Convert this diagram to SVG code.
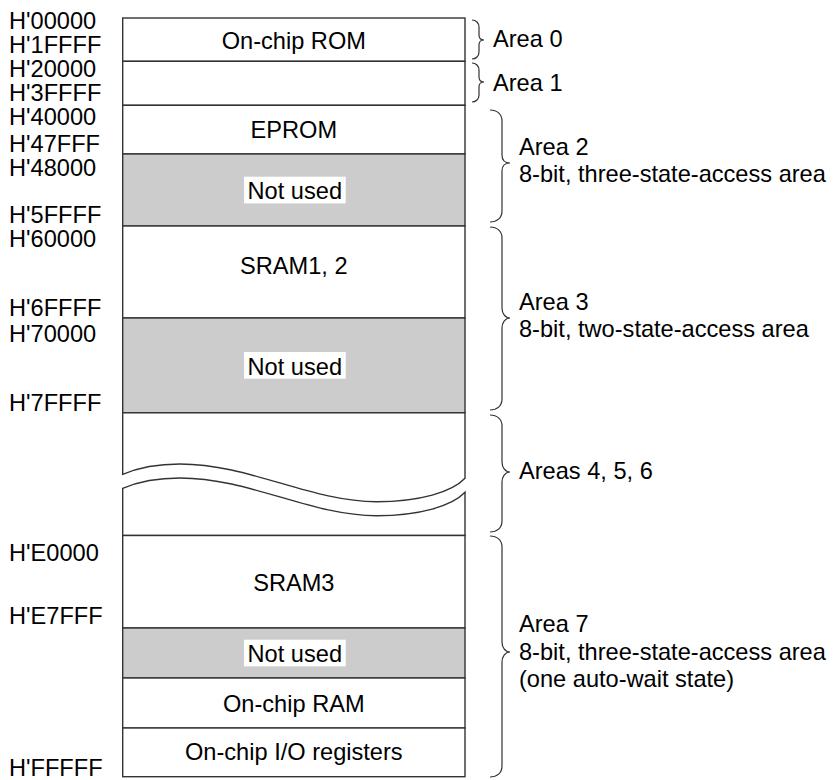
<svg xmlns="http://www.w3.org/2000/svg" width="838" height="780" viewBox="0 0 838 780">
<style>
text{font-family:"Liberation Sans",Arial,Helvetica,sans-serif;font-size:23.6px;fill:#000}
.c{text-anchor:middle}
.w{fill:#fff;stroke:#333;stroke-width:1.4}
.g{fill:#cccccc;stroke:#333;stroke-width:1.4}
.lb{fill:#fff;stroke:none}
.br{fill:none;stroke:#333;stroke-width:1.2}
</style>
<rect width="838" height="780" fill="#fff"/>
<g id="addresses">
<text x="9" y="29.3">H'00000</text>
<text x="9" y="53.3">H'1FFFF</text>
<text x="9" y="76.7">H'20000</text>
<text x="9" y="100.7">H'3FFFF</text>
<text x="9" y="125">H'40000</text>
<text x="9" y="151.7">H'47FFF</text>
<text x="9" y="175.7">H'48000</text>
<text x="9" y="223.3">H'5FFFF</text>
<text x="9" y="247">H'60000</text>
<text x="9" y="316">H'6FFFF</text>
<text x="9" y="342">H'70000</text>
<text x="9" y="411">H'7FFFF</text>
<text x="9" y="560.7">H'E0000</text>
<text x="9" y="624">H'E7FFF</text>
<text x="9" y="776">H'FFFFF</text>
</g>
<g id="rom">
<rect class="w" x="122.7" y="18" width="342.3" height="43.3"/>
<text class="c" x="293.8" y="49.3">On-chip ROM</text>
</g>
<g id="area1-empty">
<rect class="w" x="122.7" y="61.3" width="342.3" height="44"/>
</g>
<g id="eprom">
<rect class="w" x="122.7" y="105.3" width="342.3" height="48.7"/>
<text class="c" x="293.8" y="138.3">EPROM</text>
</g>
<g id="notused1">
<rect class="g" x="122.7" y="154" width="342.3" height="72"/>
<rect class="lb" x="244" y="176.7" width="101.7" height="26.7"/>
<text class="c" x="294.8" y="199.3">Not used</text>
</g>
<g id="sram12">
<rect class="w" x="122.7" y="226" width="342.3" height="92"/>
<text class="c" x="293.8" y="274">SRAM1, 2</text>
</g>
<g id="notused2">
<rect class="g" x="122.7" y="318" width="342.3" height="94.7"/>
<rect class="lb" x="244" y="352" width="101.7" height="26.7"/>
<text class="c" x="294.8" y="374.7">Not used</text>
</g>
<g id="areas456">
<path class="w" d="M122.7,474.3 C140,467 160,464 180,464 C250,464 310,501.7 376.7,501.7 C420,501.7 452,492 465,478.3 V412.7 H122.7 Z"/>
<path class="w" d="M122.7,488.3 C140,481 160,478 180,478 C250,478 310,515.7 376.7,515.7 C420,515.7 452,506 465,492.3 V535.5 H122.7 Z"/>
</g>
<g id="sram3">
<rect class="w" x="122.7" y="535.5" width="342.3" height="92.5"/>
<text class="c" x="293.8" y="591">SRAM3</text>
</g>
<g id="notused3">
<rect class="g" x="122.7" y="628" width="342.3" height="50"/>
<rect class="lb" x="244" y="639.7" width="101.7" height="26.7"/>
<text class="c" x="294.8" y="662.3">Not used</text>
</g>
<g id="ram">
<rect class="w" x="122.7" y="678" width="342.3" height="50"/>
<text class="c" x="293.8" y="711.7">On-chip RAM</text>
</g>
<g id="io">
<rect class="w" x="122.7" y="728" width="342.3" height="48.7"/>
<text class="c" x="293.8" y="760">On-chip I/O registers</text>
</g>
<g id="connectors">
<path class="br" d="M472,20 C476,20 479,23 479,27 V35 C479,38 481,40 484,40 C481,40 479,42 479,45 V52 C479,56 476,59 472,59"/>
<path class="br" d="M472,63 C476,63 479,66 479,70 V77 C479,80 481,82 484,82 C481,82 479,84 479,87 V95 C479,99 476,102 472,102"/>
<path class="br" d="M490,110 C497,110 502,114 502,121 V155 C502,160 505,163 510,163 C505,163 502,166 502,171 V211 C502,218 497,222 490,222"/>
<path class="br" d="M490,227 C497,227 502,231 502,238 V308 C502,313 505,318 510,318 C505,318 502,323 502,328 V399 C502,406 497,410 490,410"/>
<path class="br" d="M490,415 C497,415 502,419 502,426 V462 C502,467 505,472 510,472 C505,472 502,477 502,482 V521 C502,528 497,532 490,532"/>
<path class="br" d="M490,536 C497,536 502,540 502,547 V642 C502,647 505,652 510,652 C505,652 502,657 502,662 V766 C502,773 497,777 490,777"/>
</g>
<g id="area-labels">
<text x="493" y="46.7">Area 0</text>
<text x="493" y="90.7">Area 1</text>
<text x="519" y="155">Area 2</text>
<text x="519" y="181.7">8-bit, three-state-access area</text>
<text x="519" y="310">Area 3</text>
<text x="519" y="336.7">8-bit, two-state-access area</text>
<text x="519" y="479">Areas 4, 5, 6</text>
<text x="519" y="631.7">Area 7</text>
<text x="519" y="659.5">8-bit, three-state-access area</text>
<text x="519" y="686.7">(one auto-wait state)</text>
</g>
</svg>
